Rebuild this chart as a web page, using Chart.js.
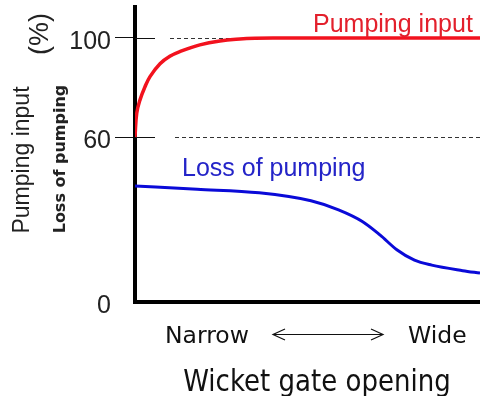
<!DOCTYPE html>
<html>
<head>
<meta charset="utf-8">
<script src="https://cdn.jsdelivr.net/npm/chart.js@4/dist/chart.umd.min.js"></script>
<style>
  html, body { margin: 0; padding: 0; background: #fff; }
  #wrap { width: 480px; height: 396px; position: relative; }
</style>
</head>
<body>
<div id="wrap"><canvas id="chart"></canvas></div>
<script>
// Wicket gate opening, 0 = narrow ... 100 = wide
const inputOpening  = [0, 0.5, 1.45, 2.9, 4.35, 7.25, 10.1, 13.0, 18.8, 24.6, 30.4, 34.8, 40, 100];
const pumpingInput  = [60, 69.6, 75, 80.3, 84.4, 89.6, 92.6, 94.5, 97.2, 98.8, 99.6, 99.9, 100, 100];
const lossOpening   = [0, 18, 36, 51, 59, 66, 71, 76, 81, 86, 95, 100];
const lossOfPumping = [42.2, 41, 39.7, 36.8, 33.5, 29.2, 24.4, 18.9, 15.2, 13.4, 11.4, 10.5];
const yTickValues   = [0, 60, 100];
const guideLevels   = [100, 60];

const toPoints = (xs, ys) => xs.map((x, i) => ({ x, y: ys[i] }));

// Linear scale with a bend: values below splitValue occupy splitFraction of the axis.
class SplitLinearScale extends Chart.LinearScale {
  static id = 'splitLinear';
  static defaults = {};
  _toDecimal(v) {
    const { min, max } = this;
    const b = this.options.splitValue, f = this.options.splitFraction;
    return v <= b ? (v - min) / (b - min) * f : f + (v - b) / (max - b) * (1 - f);
  }
  getPixelForValue(value) {
    return value === null ? NaN : this.getPixelForDecimal(this._toDecimal(value));
  }
  getValueForPixel(pixel) {
    const d = this.getDecimalForPixel(pixel);
    const { min, max } = this;
    const b = this.options.splitValue, f = this.options.splitFraction;
    return d <= f ? min + d / f * (b - min) : b + (d - f) / (1 - f) * (max - b);
  }
}
Chart.register(SplitLinearScale);

function drawText(ctx, text, x, y, font, color, opts = {}) {
  ctx.save();
  ctx.translate(x, y);
  if (opts.rotate) ctx.rotate(opts.rotate);
  if (opts.scaleX) ctx.scale(opts.scaleX, 1);
  ctx.font = font;
  ctx.fillStyle = color;
  ctx.textAlign = opts.align || 'left';
  ctx.textBaseline = 'alphabetic';
  ctx.fillText(text, 0, 0);
  ctx.restore();
}

const annotations = {
  id: 'annotations',
  beforeDatasetsDraw(chart) {
    const { ctx, chartArea, scales: { x, y } } = chart;
    ctx.save();
    ctx.strokeStyle = '#111';
    ctx.lineWidth = 1;
    // tick marks continue to the right of the axis
    yTickValues.filter(v => v > 0).forEach(v => {
      const py = Math.round(y.getPixelForValue(v)) + 0.5;
      ctx.beginPath();
      ctx.moveTo(chartArea.left, py);
      ctx.lineTo(chartArea.left + 20, py);
      ctx.stroke();
    });
    // dashed reference levels
    ctx.strokeStyle = '#333';
    ctx.setLineDash([4, 3]);
    guideLevels.forEach(v => {
      const py = Math.round(y.getPixelForValue(v)) + 0.5;
      const x0 = chartArea.left + (v === 100 ? 35 : 40);
      const x1 = v === 100 ? x.getPixelForValue(33) : chartArea.right;
      ctx.beginPath();
      ctx.moveTo(x0, py);
      ctx.lineTo(x1, py);
      ctx.stroke();
    });
    ctx.restore();
  },
  afterDraw(chart) {
    const { ctx } = chart;
    const up = -Math.PI / 2;
    // series labels
    drawText(ctx, 'Pumping input', 313, 32, '25px "Liberation Sans", Arial, sans-serif', '#e3202c');
    drawText(ctx, 'Loss of pumping', 182, 176, '25px "Liberation Sans", Arial, sans-serif', '#2424c8');
    // vertical axis titles
    drawText(ctx, 'Pumping input', 28.5, 160, '23px "Liberation Sans", Arial, sans-serif', '#222', { rotate: up, align: 'center' });
    drawText(ctx, '(%)', 47.5, 34, '27px "Liberation Sans", Arial, sans-serif', '#222', { rotate: up, align: 'center' });
    drawText(ctx, 'Loss of pumping', 65, 159, 'bold 16px "DejaVu Sans", Verdana, sans-serif', '#222', { rotate: up, align: 'center' });
    // horizontal axis captions
    const capFont = '23.5px "DejaVu Sans", Verdana, sans-serif';
    drawText(ctx, 'Narrow', 165, 343, capFont, '#111');
    drawText(ctx, 'Wide', 408, 343, capFont, '#111');
    drawText(ctx, 'Wicket gate opening', 317, 391, '31px "DejaVu Sans", Verdana, sans-serif', '#111', { align: 'center', scaleX: 0.84 });
    // double-headed arrow between Narrow and Wide
    ctx.save();
    ctx.strokeStyle = '#111';
    ctx.lineWidth = 1.2;
    const ay = 334.5, ax0 = 273, ax1 = 383;
    ctx.beginPath();
    ctx.moveTo(ax0, ay); ctx.lineTo(ax1, ay);
    ctx.moveTo(ax0 + 12, ay - 5.5); ctx.lineTo(ax0, ay); ctx.lineTo(ax0 + 12, ay + 5.5);
    ctx.moveTo(ax1 - 12, ay - 5.5); ctx.lineTo(ax1, ay); ctx.lineTo(ax1 - 12, ay + 5.5);
    ctx.stroke();
    ctx.restore();
  }
};

new Chart(document.getElementById('chart'), {
  type: 'line',
  data: {
    datasets: [
      {
        label: 'Pumping input',
        data: toPoints(inputOpening, pumpingInput),
        borderColor: '#f2121e',
        borderWidth: 3.5,
        pointRadius: 0,
        tension: 0.4,
        fill: false
      },
      {
        label: 'Loss of pumping',
        data: toPoints(lossOpening, lossOfPumping),
        borderColor: '#0a0ad8',
        borderWidth: 3,
        pointRadius: 0,
        cubicInterpolationMode: 'monotone',
        fill: false
      }
    ]
  },
  options: {
    responsive: true,
    maintainAspectRatio: false,
    animation: false,
    layout: { padding: { top: 7, left: 0, right: 0, bottom: 0 } },
    plugins: { legend: { display: false }, tooltip: { enabled: false } },
    scales: {
      x: {
        type: 'linear',
        min: 0,
        max: 100,
        ticks: { display: false },
        grid: { drawOnChartArea: false, drawTicks: false },
        border: { display: true, color: '#000', width: 4 },
        afterFit: s => { s.height = 94; s.paddingLeft = 0; s.paddingRight = 0; }
      },
      y: {
        type: 'splitLinear',
        min: 0,
        max: 112.5,
        splitValue: 60,
        splitFraction: 0.5593,
        afterBuildTicks: s => { s.ticks = yTickValues.map(v => ({ value: v })); },
        ticks: {
          padding: 4,
          labelOffset: 4,
          color: '#222',
          font: { family: '"Liberation Sans", Arial, sans-serif', size: 25 }
        },
        grid: {
          drawOnChartArea: false,
          drawTicks: true,
          tickLength: 20,
          lineWidth: 1,
          color: c => (c.tick && c.tick.value === 0 ? 'rgba(0,0,0,0)' : '#111')
        },
        border: { display: true, color: '#000', width: 4 },
        afterFit: s => { s.width = 135; s.paddingTop = 0; s.paddingBottom = 0; }
      }
    }
  },
  plugins: [annotations]
});
</script>
</body>
</html>
